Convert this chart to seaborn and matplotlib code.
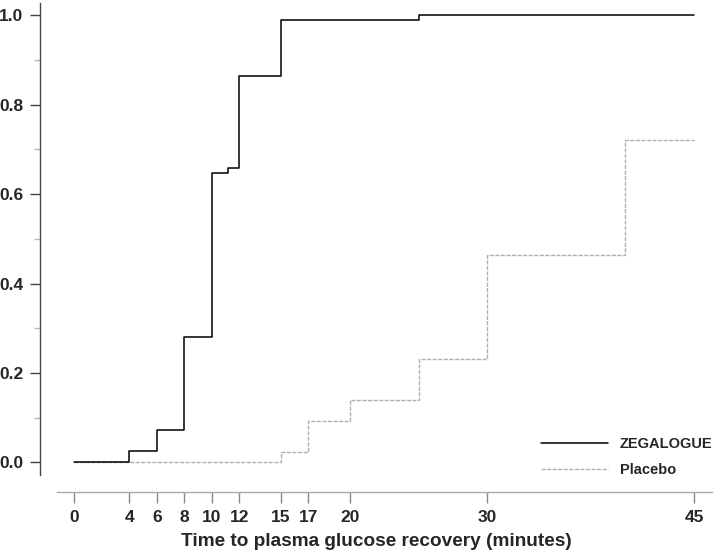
import pandas as pd
import numpy as np
import matplotlib.pyplot as plt
import seaborn as sns

# Cumulative proportion recovered (step functions)
zeg_times = [0, 4, 6, 8, 10, 11.2, 12, 15, 25, 45]
zeg_prob = [0.0, 0.025, 0.072, 0.28, 0.646, 0.659, 0.864, 0.988, 1.0, 1.0]

pla_times = [0, 15, 17, 20, 25, 30, 40, 45]
pla_prob = [0.0, 0.023, 0.092, 0.139, 0.231, 0.463, 0.72, 0.72]

x_ticks = [0, 4, 6, 8, 10, 12, 15, 17, 20, 30, 45]
y_ticks = [0.0, 0.2, 0.4, 0.6, 0.8, 1.0]

zeg = pd.DataFrame({"time": zeg_times, "prob": zeg_prob})
pla = pd.DataFrame({"time": pla_times, "prob": pla_prob})

sns.set_theme(style="ticks")
plt.rcParams["font.family"] = ["Liberation Sans", "DejaVu Sans"]
plt.rcParams["font.weight"] = "bold"

fig = plt.figure(figsize=(7.17, 5.53), dpi=100)
ax = fig.add_axes([40 / 717, 1 - 475 / 553, 672 / 717, 472 / 553])

sns.lineplot(data=zeg, x="time", y="prob", drawstyle="steps-post",
             estimator=None, sort=False, color="black", linewidth=1.1,
             label="ZEGALOGUE", ax=ax, zorder=3)
sns.lineplot(data=pla, x="time", y="prob", drawstyle="steps-post",
             estimator=None, sort=False, color="#b0b0b0", linewidth=1.0,
             linestyle=(0, (3, 1)), label="Placebo", ax=ax, zorder=2)

# spines first: moving a spine resets the tick objects
ax.spines["top"].set_visible(False)
ax.spines["right"].set_visible(False)
ax.spines["left"].set_color("#444444")
ax.spines["left"].set_linewidth(1.0)
ax.spines["bottom"].set_position(("outward", 12))
ax.spines["bottom"].set_color("#aaaaaa")
ax.spines["bottom"].set_linewidth(1.0)

ax.set_xlim(-2.47, 46.3)
ax.set_ylim(-0.028, 1.027)
ax.spines["bottom"].set_bounds(-1.23, 46.3)

ax.set_xticks(x_ticks)
ax.set_xticklabels([str(t) for t in x_ticks], fontsize=12.5, fontweight="bold")
ax.set_yticks(y_ticks)
ax.set_yticklabels([f"{v:.1f}" for v in y_ticks], fontsize=12.5, fontweight="bold")
ax.set_yticks(np.arange(0.1, 1.0, 0.2), minor=True)

ax.tick_params(axis="y", which="major", length=7, width=1, color="#444444", pad=5)
ax.tick_params(axis="y", which="minor", length=4, width=1, color="#bbbbbb")
ax.tick_params(axis="x", which="major", length=8, width=1, color="#888888", pad=5)

ax.set_xlabel("Time to plasma glucose recovery (minutes)", fontsize=13.7,
              fontweight="bold", labelpad=6)
ax.set_ylabel("")

leg = ax.legend(loc="lower right", bbox_to_anchor=(1.02, -0.033), frameon=False,
                handlelength=4.6, handletextpad=0.8, labelspacing=0.85,
                prop={"size": 10.5, "weight": "bold"})

fig.savefig("out.png", dpi=100)
